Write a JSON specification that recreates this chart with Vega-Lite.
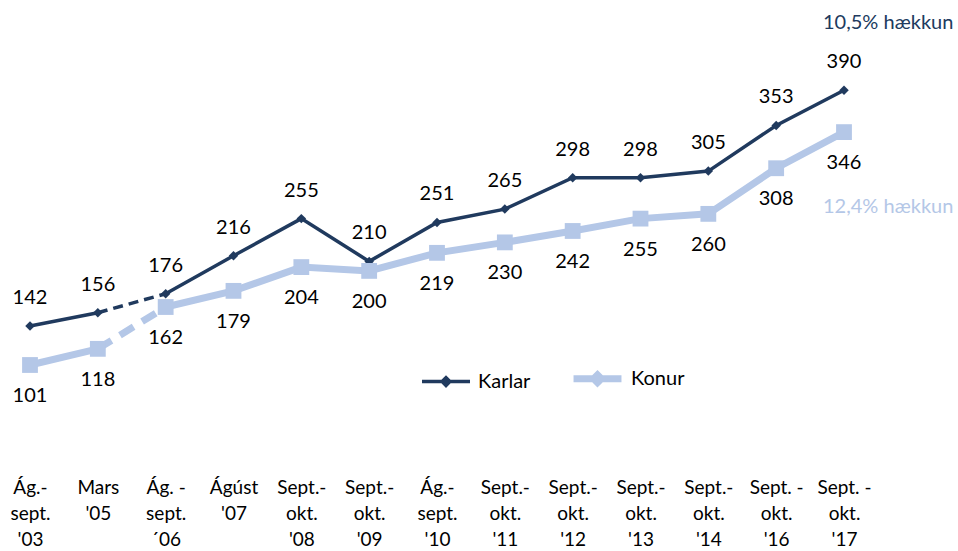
{
  "$schema": "https://vega.github.io/schema/vega-lite/v6.json",
  "width": 958,
  "height": 461,
  "autosize": {"type": "none"},
  "padding": {"left": 0, "top": 0, "right": 0, "bottom": 90},
  "background": "white",
  "config": {
    "view": {"stroke": null},
    "font": "Lato",
    "axis": {"labelFont": "Lato", "labelColor": "#000000"}
  },
  "datasets": {
    "main": [
      {"period": "Ág.-|sept.|'03", "sex": "Karlar", "value": 142},
      {"period": "Mars|'05", "sex": "Karlar", "value": 156},
      {"period": "Ág. -|sept.|´06", "sex": "Karlar", "value": 176},
      {"period": "Ágúst|'07", "sex": "Karlar", "value": 216},
      {"period": "Sept.-|okt.|'08", "sex": "Karlar", "value": 255},
      {"period": "Sept.-|okt.|'09", "sex": "Karlar", "value": 210},
      {"period": "Ág.-|sept.|'10", "sex": "Karlar", "value": 251},
      {"period": "Sept.-|okt.|'11", "sex": "Karlar", "value": 265},
      {"period": "Sept.-|okt.|'12", "sex": "Karlar", "value": 298},
      {"period": "Sept.-|okt.|'13", "sex": "Karlar", "value": 298},
      {"period": "Sept.-|okt.|'14", "sex": "Karlar", "value": 305},
      {"period": "Sept. -|okt.|'16", "sex": "Karlar", "value": 353},
      {"period": "Sept. -|okt.|'17", "sex": "Karlar", "value": 390},
      {"period": "Ág.-|sept.|'03", "sex": "Konur", "value": 101},
      {"period": "Mars|'05", "sex": "Konur", "value": 118},
      {"period": "Ág. -|sept.|´06", "sex": "Konur", "value": 162},
      {"period": "Ágúst|'07", "sex": "Konur", "value": 179},
      {"period": "Sept.-|okt.|'08", "sex": "Konur", "value": 204},
      {"period": "Sept.-|okt.|'09", "sex": "Konur", "value": 200},
      {"period": "Ág.-|sept.|'10", "sex": "Konur", "value": 219},
      {"period": "Sept.-|okt.|'11", "sex": "Konur", "value": 230},
      {"period": "Sept.-|okt.|'12", "sex": "Konur", "value": 242},
      {"period": "Sept.-|okt.|'13", "sex": "Konur", "value": 255},
      {"period": "Sept.-|okt.|'14", "sex": "Konur", "value": 260},
      {"period": "Sept. -|okt.|'16", "sex": "Konur", "value": 308},
      {"period": "Sept. -|okt.|'17", "sex": "Konur", "value": 346}
    ],
    "notes": [
      {"period": "Sept. -|okt.|'17", "sex": "Karlar", "value": 461, "text": "10,5% hækkun"},
      {"period": "Sept. -|okt.|'17", "sex": "Konur", "value": 267, "text": "12,4% hækkun"}
    ]
  },
  "data": {"name": "main"},
  "encoding": {
    "x": {
      "field": "period",
      "type": "nominal",
      "sort": null,
      "scale": {
        "type": "point",
        "domain": ["Ág.-|sept.|'03", "Mars|'05", "Ág. -|sept.|´06", "Ágúst|'07", "Sept.-|okt.|'08", "Sept.-|okt.|'09", "Ág.-|sept.|'10", "Sept.-|okt.|'11", "Sept.-|okt.|'12", "Sept.-|okt.|'13", "Sept.-|okt.|'14", "Sept. -|okt.|'16", "Sept. -|okt.|'17"],
        "range": [30, 844],
        "padding": 0
      },
      "axis": {
        "title": null,
        "domain": false,
        "ticks": false,
        "grid": false,
        "labelAngle": 0,
        "labelFontSize": 19,
        "labelLineHeight": 26,
        "labelPadding": 17,
        "labelExpr": "split(datum.value, '|')"
      }
    },
    "y": {
      "field": "value",
      "type": "quantitative",
      "scale": {"domain": [0, 485], "nice": false, "zero": true},
      "axis": null
    }
  },
  "layer": [
    {
      "transform": [{"filter": {"field": "period", "oneOf": ["Ág.-|sept.|'03", "Mars|'05"]}}],
      "mark": {"type": "line", "strokeCap": "butt"},
      "encoding": {
        "color": {
          "field": "sex", "type": "nominal",
          "scale": {"domain": ["Karlar", "Konur"], "range": ["#203A5E", "#B4C7E7"]},
          "legend": {
            "title": null,
            "orient": "none",
            "legendX": 420,
            "legendY": 351,
            "direction": "horizontal",
            "symbolType": "M-1,0H1M-0.16,0L0,-0.16L0.16,0L0,0.16Z",
            "symbolSize": 2300,
            "labelFontSize": 20,
            "labelFont": "Lato",
            "labelColor": "#000000",
            "columnPadding": 28,
            "labelOffset": 6
          }
        },
        "strokeWidth": {
          "field": "sex", "type": "nominal",
          "scale": {"domain": ["Karlar", "Konur"], "range": [3.5, 7]},
          "legend": null
        }
      }
    },
    {
      "transform": [{"filter": {"not": {"field": "period", "oneOf": ["Ág.-|sept.|'03", "Mars|'05"]}}}],
      "mark": {"type": "line", "strokeCap": "butt"},
      "encoding": {
        "color": {"field": "sex", "type": "nominal"},
        "strokeWidth": {"field": "sex", "type": "nominal", "legend": null}
      }
    },
    {
      "transform": [
        {"filter": {"field": "period", "oneOf": ["Mars|'05", "Ág. -|sept.|´06"]}},
        {"filter": {"field": "sex", "equal": "Karlar"}}
      ],
      "mark": {"type": "line", "strokeCap": "butt", "strokeDash": [10, 6], "strokeWidth": 3.5, "color": "#203A5E"}
    },
    {
      "transform": [
        {"filter": {"field": "period", "oneOf": ["Mars|'05", "Ág. -|sept.|´06"]}},
        {"filter": {"field": "sex", "equal": "Konur"}}
      ],
      "mark": {"type": "line", "strokeCap": "butt", "strokeDash": [16, 10], "strokeWidth": 7, "color": "#B4C7E7"}
    },
    {
      "transform": [{"filter": {"field": "sex", "equal": "Karlar"}}],
      "mark": {"type": "point", "shape": "diamond", "filled": true, "size": 90, "color": "#203A5E", "opacity": 1}
    },
    {
      "transform": [{"filter": {"field": "sex", "equal": "Konur"}}],
      "mark": {"type": "point", "shape": "square", "filled": true, "size": 250, "color": "#B4C7E7", "opacity": 1}
    },
    {
      "transform": [{"filter": {"field": "sex", "equal": "Karlar"}}],
      "mark": {"type": "text", "dy": -28, "fontSize": 20, "font": "Lato", "color": "#000000", "baseline": "middle"},
      "encoding": {"text": {"field": "value", "type": "quantitative"}}
    },
    {
      "transform": [{"filter": {"field": "sex", "equal": "Konur"}}],
      "mark": {"type": "text", "dy": 31, "fontSize": 20, "font": "Lato", "color": "#000000", "baseline": "middle"},
      "encoding": {"text": {"field": "value", "type": "quantitative"}}
    },
    {
      "data": {"name": "notes"},
      "mark": {"type": "text", "align": "left", "dx": -21, "fontSize": 20, "font": "Lato", "baseline": "middle"},
      "encoding": {
        "text": {"field": "text", "type": "nominal"},
        "color": {"field": "sex", "type": "nominal", "legend": null}
      }
    }
  ]
}
